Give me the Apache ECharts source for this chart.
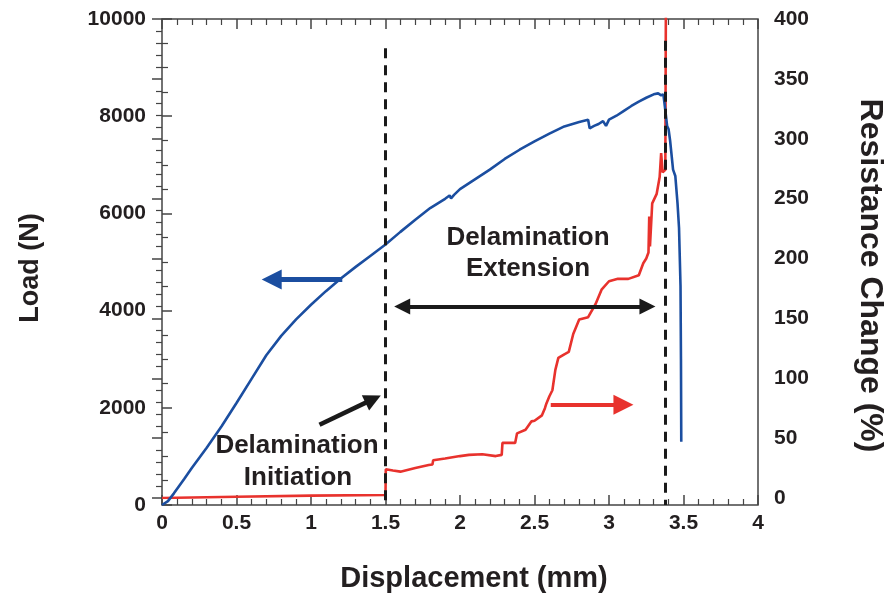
<!DOCTYPE html>
<html>
<head>
<meta charset="utf-8">
<script src="https://cdn.jsdelivr.net/npm/echarts@6/dist/echarts.min.js"></script>
<style>
  html, body { margin: 0; padding: 0; background: #fff; }
  #chart { width: 886px; height: 594px; }
</style>
</head>
<body>
<div id="chart"></div>
<script>
// load curve (left axis)
const loadDisp = [0, 0.04, 0.08, 0.15, 0.2, 0.3, 0.4, 0.5, 0.6, 0.7, 0.8, 0.9, 1.0, 1.1, 1.2, 1.3, 1.4, 1.5, 1.6, 1.7, 1.8, 1.9, 1.93, 1.94, 1.96, 2.0, 2.1, 2.2, 2.3, 2.4, 2.5, 2.6, 2.7, 2.8, 2.86, 2.87, 2.9, 2.93, 2.96, 2.98, 3.0, 3.05, 3.1, 3.15, 3.2, 3.25, 3.3, 3.33, 3.35, 3.365, 3.375, 3.39, 3.4, 3.41, 3.43, 3.445, 3.46, 3.47, 3.48, 3.483, 3.485];
const loadN = [0, 80, 240, 540, 760, 1180, 1620, 2100, 2590, 3080, 3480, 3820, 4120, 4400, 4660, 4900, 5130, 5360, 5620, 5870, 6110, 6300, 6370, 6310, 6380, 6500, 6700, 6900, 7120, 7310, 7480, 7640, 7790, 7880, 7925, 7750, 7800, 7840, 7900, 7800, 7930, 8010, 8110, 8210, 8300, 8380, 8450, 8470, 8430, 8450, 8200, 7800, 7730, 7500, 6900, 6770, 6200, 5700, 4500, 3000, 1300];

// resistance change curve (right axis)
const resDisp = [0, 0.5, 1.0, 1.5, 1.502, 1.55, 1.6, 1.7, 1.79, 1.815, 1.82, 1.9, 2.0, 2.06, 2.15, 2.24, 2.28, 2.285, 2.37, 2.383, 2.44, 2.48, 2.5, 2.55, 2.57, 2.58, 2.6, 2.62, 2.64, 2.66, 2.7, 2.73, 2.76, 2.8, 2.86, 2.91, 2.95, 3.0, 3.06, 3.13, 3.2, 3.23, 3.25, 3.265, 3.27, 3.275, 3.29, 3.32, 3.34, 3.35, 3.36, 3.378, 3.382];
const resPct = [0, 1, 2, 2.5, 24, 23, 22, 25, 27.5, 28, 31.5, 33, 35, 36, 36.5, 35, 36, 46, 46, 54, 57, 64, 64.5, 69, 75, 79, 85, 90, 107, 117, 120, 122, 137, 149, 151, 162, 174, 181, 183, 183, 186, 196, 200, 205, 235, 210, 246, 254, 268, 288, 272, 274, 420];

const FONT = '"Liberation Sans", Arial, sans-serif';
const INK = '#231f20';
const BLUE = '#1b4ea0';
const RED = '#e8322d';

const chart = echarts.init(document.getElementById('chart'));

const loadData = loadDisp.map((x, i) => [x, loadN[i]]);
const resData = resDisp.map((x, i) => [x, resPct[i]]);

function ticks(minorSplit) {
  return {
    axisLine: {show: false},
    axisTick: {show: true, inside: true, length: 10, lineStyle: {color: '#444', width: 1.5}},
    minorTick: {show: true, splitNumber: minorSplit, length: 6, lineStyle: {color: '#444', width: 1.2}},
    splitLine: {show: false}
  };
}

const labelStyle = {color: INK, fontSize: 21, fontWeight: 'bold', fontFamily: FONT};
const nameStyle = (size, padding) => ({color: INK, fontSize: size, fontWeight: 'bold', fontFamily: FONT, padding: padding});

chart.setOption({
  animation: false,
  backgroundColor: '#fff',
  grid: [
    {left: 162, right: 128, top: 19, bottom: 89, outerBoundsMode: 'none', show: true, borderColor: '#444', borderWidth: 1.5},
    {left: 162, right: 128, top: 19, bottom: 96, outerBoundsMode: 'none'}
  ],
  xAxis: [
    Object.assign({
      gridIndex: 0, type: 'value', min: 0, max: 4, interval: 0.5, position: 'bottom',
      name: 'Displacement (mm)', nameLocation: 'middle', nameGap: 59, nameTextStyle: nameStyle(29, [0, 0, 0, 28]),
      axisLabel: Object.assign({margin: 8}, labelStyle)
    }, ticks(5)),
    Object.assign({
      gridIndex: 0, type: 'value', min: 0, max: 4, interval: 0.5, position: 'top',
      axisLabel: {show: false}
    }, ticks(5)),
    {gridIndex: 1, type: 'value', min: 0, max: 4, show: false}
  ],
  yAxis: [
    Object.assign({
      gridIndex: 0, type: 'value', min: 0, max: 10000, interval: 2000, position: 'left',
      name: 'Load (N)', nameLocation: 'middle', nameGap: 118, nameRotate: 90, nameTextStyle: nameStyle(27, [0, 12, 0, 0]),
      axisLabel: Object.assign({margin: 16, formatter: v => String(v)}, labelStyle)
    }, ticks(4)),
    Object.assign({
      gridIndex: 1, type: 'value', min: 0, max: 400, interval: 50, position: 'right',
      name: 'Resistance Change (%)', nameLocation: 'middle', nameGap: 96, nameRotate: -90, nameTextStyle: nameStyle(32, [0, 0, 0, 34]),
      axisLabel: Object.assign({margin: 16}, labelStyle)
    }, ticks(5))
  ],
  series: [
    {
      name: 'Load',
      type: 'line',
      xAxisIndex: 0, yAxisIndex: 0,
      data: loadData,
      showSymbol: false,
      lineStyle: {color: BLUE, width: 2.6},
      itemStyle: {color: BLUE},
      z: 3,
      markLine: {
        silent: true,
        symbol: ['none', 'none'],
        label: {show: false},
        lineStyle: {color: '#1a1a1a', width: 3, type: [10, 7]},
        z: 5,
        data: [
          [{coord: [1.5, 9400]}, {coord: [1.5, 0]}],
          [{coord: [3.38, 9550]}, {coord: [3.38, 0]}],
          // blue arrow pointing to the load axis
          [{coord: [1.21, 4640], symbol: 'none', lineStyle: {color: BLUE, width: 5, type: 'solid'}},
           {coord: [0.736, 4640], symbol: 'triangle', symbolSize: [20, 20], lineStyle: {color: BLUE, width: 5, type: 'solid'}}],
          // delamination extension double arrow
          [{coord: [1.612, 4083], symbol: 'triangle', symbolSize: [16, 16], lineStyle: {color: '#1a1a1a', width: 4, type: 'solid'}},
           {coord: [3.258, 4083], symbol: 'triangle', symbolSize: [16, 16], lineStyle: {color: '#1a1a1a', width: 4, type: 'solid'}}],
          // initiation arrow
          [{coord: [1.057, 1650], symbol: 'none', lineStyle: {color: '#1a1a1a', width: 4.5, type: 'solid'}},
           {coord: [1.417, 2178], symbol: 'triangle', symbolSize: [17, 17], lineStyle: {color: '#1a1a1a', width: 4.5, type: 'solid'}}],
          // red arrow pointing to the resistance axis
          [{coord: [2.609, 2062], symbol: 'none', lineStyle: {color: RED, width: 4, type: 'solid'}},
           {coord: [3.097, 2062], symbol: 'triangle', symbolSize: [20, 20], lineStyle: {color: RED, width: 4, type: 'solid'}}]
        ]
      }
    },
    {
      name: 'Resistance Change',
      type: 'line',
      xAxisIndex: 2, yAxisIndex: 1,
      data: resData,
      showSymbol: false,
      clip: true,
      lineStyle: {color: RED, width: 2.6},
      itemStyle: {color: RED},
      z: 2
    }
  ],
  graphic: [
    {type: 'text', x: 528, y: 238, style: {text: 'Delamination', fill: INK, font: 'bold 26px ' + FONT, textAlign: 'center', textVerticalAlign: 'middle'}},
    {type: 'text', x: 528, y: 269, style: {text: 'Extension', fill: INK, font: 'bold 26px ' + FONT, textAlign: 'center', textVerticalAlign: 'middle'}},
    {type: 'text', x: 297, y: 446, style: {text: 'Delamination', fill: INK, font: 'bold 26px ' + FONT, textAlign: 'center', textVerticalAlign: 'middle'}},
    {type: 'text', x: 298, y: 478, style: {text: 'Initiation', fill: INK, font: 'bold 26px ' + FONT, textAlign: 'center', textVerticalAlign: 'middle'}}
  ]
});
</script>
</body>
</html>
